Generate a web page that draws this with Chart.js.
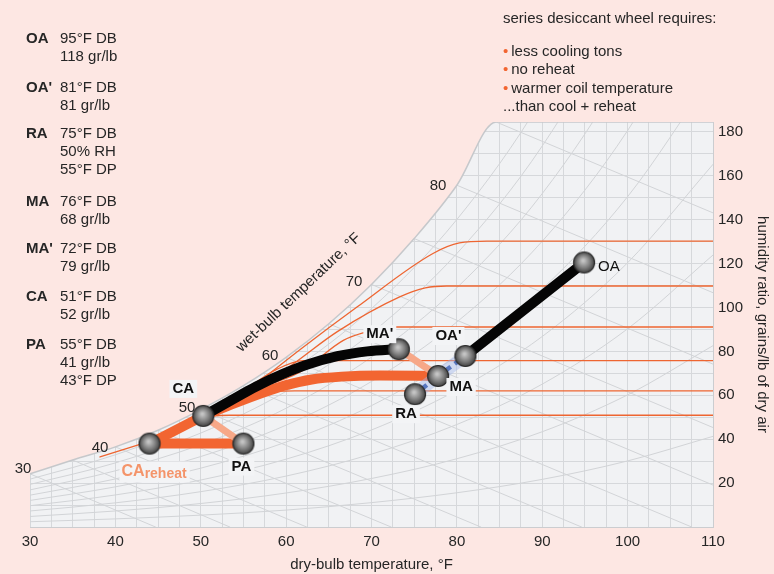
<!DOCTYPE html>
<html>
<head>
<meta charset="utf-8">
<script src="https://cdn.jsdelivr.net/npm/chart.js@4.4.1/dist/chart.umd.min.js"></script>
<style>
  html, body { margin: 0; padding: 0; background: #fde7e3; }
  #wrap { position: relative; width: 774px; height: 574px; overflow: hidden;
    font-family: "Liberation Sans", Arial, sans-serif; color: #262626; font-size: 15px; }
  #chart { position: absolute; left: 0; top: 0; }
  .t { position: absolute; white-space: nowrap; line-height: 18px; }
  .b { font-weight: bold; }
  .c { transform: translate(-50%, -50%); }
  .dot { color: #f26531; margin-right: 3px; }
</style>
</head>
<body>
<div id="wrap">
  <canvas id="chart" width="774" height="574"></canvas>

  <!-- state point legend -->
  <div class="t b" style="left:26px;top:29px">OA</div>
  <div class="t" style="left:60px;top:29px">95°F DB<br>118 gr/lb</div>
  <div class="t b" style="left:26px;top:78px">OA'</div>
  <div class="t" style="left:60px;top:78px">81°F DB<br>81 gr/lb</div>
  <div class="t b" style="left:26px;top:124px">RA</div>
  <div class="t" style="left:60px;top:124px">75°F DB<br>50% RH<br>55°F DP</div>
  <div class="t b" style="left:26px;top:192px">MA</div>
  <div class="t" style="left:60px;top:192px">76°F DB<br>68 gr/lb</div>
  <div class="t b" style="left:26px;top:239px">MA'</div>
  <div class="t" style="left:60px;top:239px">72°F DB<br>79 gr/lb</div>
  <div class="t b" style="left:26px;top:287px">CA</div>
  <div class="t" style="left:60px;top:287px">51°F DB<br>52 gr/lb</div>
  <div class="t b" style="left:26px;top:335px">PA</div>
  <div class="t" style="left:60px;top:335px">55°F DB<br>41 gr/lb<br>43°F DP</div>

  <!-- notes -->
  <div class="t" style="left:503px;top:9px">series desiccant wheel requires:</div>
  <div class="t" style="left:503px;top:42px"><span class="dot">•</span>less cooling tons</div>
  <div class="t" style="left:503px;top:60px"><span class="dot">•</span>no reheat</div>
  <div class="t" style="left:503px;top:79px"><span class="dot">•</span>warmer coil temperature</div>
  <div class="t" style="left:503px;top:97px">...than cool + reheat</div>

  <!-- wet-bulb scale -->
  <div class="t c" style="left:23px;top:468px">30</div>
  <div class="t c" style="left:100px;top:447px">40</div>
  <div class="t c" style="left:187px;top:407px">50</div>
  <div class="t c" style="left:270px;top:355px">60</div>
  <div class="t c" style="left:354px;top:281px">70</div>
  <div class="t c" style="left:438px;top:185px">80</div>
  <div class="t" style="left:298px;top:292px;transform:translate(-50%,-50%) rotate(-43.5deg)">wet-bulb temperature, °F</div>
</div>

<script>
// ===============================
// data
// ===============================
const stateNames = ["OA", "OA'", "MA", "MA'", "RA", "CA", "CAreheat", "PA"];
const stateDB    = [94.9, 81.0, 77.8, 73.2, 75.1, 50.3, 44.0, 55.0];
const stateW     = [120.5, 77.9, 68.8, 81.0, 60.5, 50.6, 38.0, 38.0];

// saturation curve
const satDB = [30, 35, 40, 45, 50, 55, 60, 65, 70, 75, 80, 84.6, 110];
const satW  = [24.2, 30.5, 36.5, 44.1, 53.5, 64.4, 77.3, 92.6, 110.5, 131.4, 155.7, 184.5, 184.5];

// wet-bulb lines: start on saturation, end at zero humidity
const wbTemp  = [30, 35, 40, 45, 50, 55, 60, 65, 70, 75, 80, 84.6];
const wbSatW  = [24.2, 30.5, 36.5, 44.1, 53.5, 64.4, 77.3, 92.6, 110.5, 131.4, 155.7, 184.5];
const wbZeroT = [44.7, 53.4, 62.4, 72.3, 82.8, 94.6, 107.5, 121.7, 137.8, 155.4, 175.4, 197.8];

// relative humidity curves (10% .. 90%)
const rhDB = [30, 40, 50, 60, 70, 80, 90, 100, 110];
const rh10 = [2.4, 3.7, 5.4, 7.7, 11.1, 15.6, 21.7, 30.1, 41.3];
const rh20 = [4.8, 7.3, 10.7, 15.5, 22.1, 31.1, 43.4, 60.2, 82.6];
const rh30 = [7.3, 11.0, 16.1, 23.2, 33.2, 46.7, 65.1, 90.3, 123.9];
const rh40 = [9.7, 14.6, 21.4, 30.9, 44.2, 62.3, 86.8, 120.4, 165.2];
const rh50 = [12.1, 18.3, 26.8, 38.7, 55.3, 77.9, 108.5, 150.5, 206.5];
const rh60 = [14.5, 21.9, 32.1, 46.4, 66.3, 93.4, 130.2, 180.6, 247.8];
const rh70 = [16.9, 25.6, 37.5, 54.1, 77.4, 109.0, 151.9, 210.7, 289.0];
const rh80 = [19.4, 29.2, 42.8, 61.8, 88.4, 124.6, 173.6, 240.8, 330.0];
const rh90 = [21.8, 32.9, 48.2, 69.6, 99.5, 140.1, 195.3, 270.9, 371.0];

// thin orange coil lines
const coilA_DB = [55.5, 61.8, 68.3, 77.2, 80.3, 83.5, 110];
const coilA_W  = [62.0, 81.3, 100.2, 124.6, 129.4, 130.2, 130.2];
const coilB_DB = [55.0, 60.0, 66.0, 73.3, 76.3, 78.8, 110];
const coilB_W  = [60.0, 72.0, 89.0, 104.8, 108.9, 109.8, 109.8];
const coilC_DB = [55.8, 61.6, 66.7, 69.0, 72.5, 110];
const coilC_W  = [62.2, 70.5, 85.0, 88.4, 91.1, 91.1];
const coilD_DB = [55.0, 59.0, 62.0, 110];
const coilD_W  = [62.0, 72.0, 75.8, 75.8];
const coilE_DB = [52.0, 57.0, 61.0, 110];
const coilE_W  = [55.0, 61.0, 62.0, 62.0];
const coilF_DB = [48.3, 51.0, 53.4, 110];
const coilF_W  = [48.3, 50.5, 50.9, 50.9];
const coilG_DB = [38.2, 44.0];
const coilG_W  = [31.9, 39.0];

// process paths
const wheelDB = [50.3, 53.5, 56.5, 59.5, 62.5, 66.0, 69.5, 73.2];   // CA -> MA'
const wheelW  = [50.6, 57.6, 64.0, 69.5, 74.0, 77.8, 80.0, 81.0];
const coilDB  = [50.3, 54.0, 57.0, 60.0, 63.0, 66.5, 71.0, 77.8];   // CA -> MA
const coilW   = [50.6, 56.4, 60.8, 64.6, 67.2, 68.5, 69.0, 68.8];

const xTicks = [30, 40, 50, 60, 70, 80, 90, 100, 110];
const yTicks = [20, 40, 60, 80, 100, 120, 140, 160, 180];

// ===============================
// helpers
// ===============================
const FONT = '"Liberation Sans", Arial, sans-serif';
const PINK = "#fde7e3";
const pts = (xs, ys) => xs.map((x, i) => ({ x: x, y: ys[i] }));
const at = name => {
  const i = stateNames.indexOf(name);
  return { x: stateDB[i], y: stateW[i] };
};

function line(data, color, width, order, extra) {
  return Object.assign({
    data: data, showLine: true, pointRadius: 0, borderColor: color,
    borderWidth: width, fill: false, order: order, borderCapStyle: "round",
    borderJoinStyle: "round"
  }, extra || {});
}

// gray sphere marker
function sphere() {
  const c = document.createElement("canvas");
  c.width = 24; c.height = 24;
  const g = c.getContext("2d");
  const grad = g.createRadialGradient(11, 10, 1, 12, 12, 11);
  grad.addColorStop(0, "#c4c4c4");
  grad.addColorStop(0.55, "#7d7d7d");
  grad.addColorStop(1, "#3b3b3b");
  g.beginPath();
  g.arc(12, 12, 10.5, 0, Math.PI * 2);
  g.fillStyle = grad;
  g.fill();
  g.lineWidth = 1.2;
  g.strokeStyle = "#2c2c2c";
  g.stroke();
  return c;
}

// ===============================
// datasets
// ===============================
const datasets = [];

// mask above saturation curve
datasets.push(line(pts(satDB, satW), PINK, 0, 100,
  { fill: "end", backgroundColor: PINK, cubicInterpolationMode: "monotone" }));

// wet-bulb lines
wbTemp.forEach((t, i) => {
  datasets.push(line([{ x: t, y: wbSatW[i] }, { x: wbZeroT[i], y: 0 }], "#d2d4d7", 1, 90));
});

// RH curves
[rh10, rh20, rh30, rh40, rh50, rh60, rh70, rh80, rh90].forEach(r => {
  datasets.push(line(pts(rhDB, r), "#d2d4d7", 1, 90, { cubicInterpolationMode: "monotone" }));
});

// saturation outline
datasets.push(line(pts(satDB, satW), "#c6c8cb", 1.5, 85, { cubicInterpolationMode: "monotone" }));

// thin orange lines
[[coilA_DB, coilA_W], [coilB_DB, coilB_W], [coilC_DB, coilC_W], [coilD_DB, coilD_W],
 [coilE_DB, coilE_W], [coilF_DB, coilF_W], [coilG_DB, coilG_W]].forEach(l => {
  datasets.push(line(pts(l[0], l[1]), "#ee6531", 1.3, 80, { cubicInterpolationMode: "monotone" }));
});

// cool + reheat path
datasets.push(line([at("CAreheat"), at("CA")], "#f26531", 10, 60));
datasets.push(line(pts(coilDB, coilW), "#f26531", 10, 60, { cubicInterpolationMode: "monotone" }));
datasets.push(line([at("CAreheat"), at("PA")], "#f26531", 10, 60));
// light segments
datasets.push(line([at("CA"), at("PA")], "#f7a888", 7, 58));
datasets.push(line([at("MA'"), at("MA")], "#f7a888", 7, 58));
// desiccant wheel path
datasets.push(line(pts(wheelDB, wheelW), "#050505", 10, 50, { cubicInterpolationMode: "monotone" }));
datasets.push(line([at("OA'"), at("OA")], "#050505", 10, 50));
// mixing line
datasets.push(line([at("RA"), at("MA"), at("OA'")], "rgba(165,185,235,0.45)", 13, 47));
datasets.push(line([at("RA"), at("MA"), at("OA'")], "#5877c0", 4.5, 45,
  { borderDash: [5, 5], borderCapStyle: "butt" }));

// state points
datasets.push({
  data: stateNames.map(n => at(n)), pointStyle: sphere(), pointRadius: 11, order: 1
});

// ===============================
// plugins
// ===============================
const plotBg = {
  id: "plotBg",
  beforeDraw(chart) {
    const { ctx, chartArea: a } = chart;
    ctx.save();
    ctx.fillStyle = "#f1f2f4";
    ctx.fillRect(a.left, a.top, a.right - a.left, a.bottom - a.top);
    ctx.restore();
  }
};

const labelOffsets = {
  "OA": [14, 4, "left", "normal"], "OA'": [-17, -20, "center", "bold"],
  "MA'": [-19, -15, "center", "bold"], "MA": [23, 11, "center", "bold"],
  "RA": [-9, 20, "center", "bold"], "CA": [-20, -27, "center", "bold"],
  "PA": [-2, 23, "center", "bold"]
};

const pointLabels = {
  id: "pointLabels",
  afterDatasetsDraw(chart) {
    const { ctx, scales: { x, y } } = chart;
    ctx.save();
    ctx.textBaseline = "middle";
    Object.keys(labelOffsets).forEach(n => {
      const p = at(n), o = labelOffsets[n];
      const px = x.getPixelForValue(p.x) + o[0];
      const py = y.getPixelForValue(p.y) + o[1];
      ctx.font = o[3] + " 15px " + FONT;
      ctx.textAlign = o[2];
      const w = ctx.measureText(n).width;
      if (o[3] === "bold") {
        ctx.fillStyle = "#f3f4f6";
        ctx.fillRect(px - w / 2 - 3, py - 9, w + 6, 18);
      }
      ctx.fillStyle = "#111";
      ctx.fillText(n, px, py);
    });
    // CA reheat label
    const p = at("CAreheat");
    const px = x.getPixelForValue(p.x) - 28, py = y.getPixelForValue(p.y) + 28;
    ctx.textAlign = "left";
    ctx.font = "bold 16px " + FONT;
    const w1 = ctx.measureText("CA").width;
    ctx.font = "bold 14px " + FONT;
    const w2 = ctx.measureText("reheat").width;
    ctx.fillStyle = "#f3f4f6";
    ctx.fillRect(px - 2, py - 10, w1 + w2 + 5, 21);
    ctx.fillStyle = "#f4946a";
    ctx.font = "bold 16px " + FONT;
    ctx.fillText("CA", px, py);
    ctx.font = "bold 14px " + FONT;
    ctx.fillText("reheat", px + w1, py + 3);
    ctx.restore();
  }
};

// ===============================
// chart
// ===============================
new Chart(document.getElementById("chart"), {
  type: "scatter",
  data: { datasets },
  options: {
    responsive: false,
    animation: false,
    events: [],
    layout: { padding: { top: 122, left: 30, right: 0, bottom: 0 } },
    plugins: { legend: { display: false }, tooltip: { enabled: false } },
    scales: {
      x: {
        type: "linear", min: 30, max: 110, position: "bottom",
        afterFit: s => { s.height = 47; },
        grid: { color: "#d6d8db", drawTicks: false },
        border: { color: "#cbcdd0" },
        ticks: {
          stepSize: 2.5, autoSkip: false, maxRotation: 0, padding: 6,
          color: "#262626", font: { size: 15, family: FONT },
          callback: v => xTicks.includes(v) ? v : ""
        },
        title: {
          display: true, text: "dry-bulb temperature, °F", color: "#262626",
          font: { size: 15, family: FONT }, padding: { top: 0, bottom: 0 }
        }
      },
      y: {
        type: "linear", min: 0, max: 184.5, position: "right",
        afterFit: s => { s.width = 61; },
        grid: { color: "#d6d8db", drawTicks: false },
        border: { color: "#cbcdd0" },
        ticks: {
          stepSize: 10, includeBounds: false, autoSkip: false, padding: 5,
          color: "#262626", font: { size: 15, family: FONT },
          callback: v => yTicks.includes(v) ? v : ""
        },
        title: {
          display: true, text: "humidity ratio, grains/lb of dry air", color: "#262626",
          font: { size: 15, family: FONT }, padding: { top: 3, bottom: 0 }
        }
      }
    }
  },
  plugins: [plotBg, pointLabels]
});
</script>
</body>
</html>
